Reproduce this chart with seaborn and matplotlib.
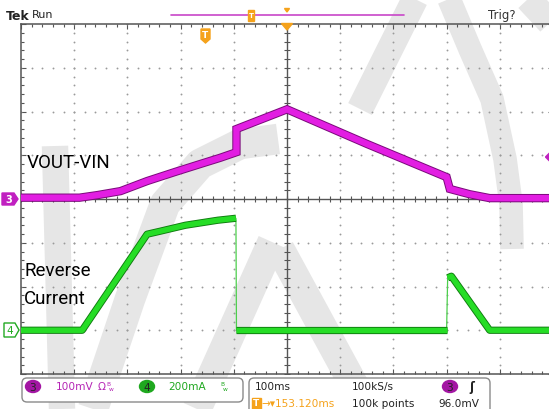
import numpy as np
import pandas as pd
import matplotlib
matplotlib.use("Agg")
import matplotlib.pyplot as plt
import seaborn as sns
from matplotlib import patheffects as pe
from matplotlib.patches import Polygon, FancyBboxPatch, Ellipse, Rectangle
from matplotlib import font_manager as fm

# ---------------- data ----------------
# Channel 3: VOUT-VIN, 100 mV/div, ground at centre line
ch3_time_ms = [-500, -390, -356, -313, -263, -210, -163, -126, -95, -95, 0, 150, 300, 306, 343, 381, 500]
ch3_mv      = [3, 3, 9, 18, 41, 62, 80, 94, 107, 160, 205, 126, 50, 23, 11, 2, 2]

# Channel 4: reverse current, 200 mA/div, ground 3 div below centre
ch4_seg1_ms = [-500, -385, -263, -238, -191, -130, -96]
ch4_seg1_ma = [0, 0, 439, 453, 480, 503, 512]
ch4_seg2_ms = [-95, 300]
ch4_seg2_ma = [0, 0]
ch4_seg3_ms = [302, 309, 381, 500]
ch4_seg3_ma = [240, 247, 0, 0]

ch3_scale, ch3_offset = 100.0, 0.0     # mV/div, div
ch4_scale, ch4_offset = 200.0, -3.0    # mA/div, div
trig_level_mv = 96.0

# ---------------- style ----------------
sns.set_theme(style="white")
plt.rcParams["font.family"] = ["DejaVu Sans"]
names = {f.name for f in fm.fontManager.ttflist}
if "Liberation Sans Narrow" in names:
    label_font, label_fs = "Liberation Sans Narrow", 16
elif "Roboto" in names:
    label_font, label_fs = "Roboto", 13.5
else:
    label_font, label_fs = "Liberation Sans", 13

W, H = 549, 410
fig = plt.figure(figsize=(W / 100, H / 100), dpi=100)
fig.patch.set_facecolor("white")

ax_bg = fig.add_axes([0, 0, 1, 1], zorder=0)
ax_bg.set_xlim(0, W); ax_bg.set_ylim(H, 0); ax_bg.axis("off")

ax = fig.add_axes([21 / W, 35 / H, 532 / W, 350 / H], zorder=1)
ax.patch.set_alpha(0)

ax_fg = fig.add_axes([0, 0, 1, 1], zorder=2)
ax_fg.set_xlim(0, W); ax_fg.set_ylim(H, 0); ax_fg.axis("off")
ax_fg.patch.set_visible(False)

# ---------------- watermark (light grey strokes) ----------------
wm = "#e6e6e6"
strokes = [
    ([55, 62], [147, 410], 19),
    ([93, 130, 165, 200, 240, 278], [410, 300, 205, 165, 145, 140], 22),
    ([197, 272], [410, 243], 21),
    ([280, 367], [250, 410], 21),
    ([415, 360], [0, 110], 19),
    ([449, 470, 492, 505, 511, 512], [0, 50, 100, 160, 205, 250], 17),
    ([528, 556], [0, 30], 19),
]
for xs, ys, lw in strokes:
    ax_bg.plot(xs, ys, color=wm, lw=lw, solid_capstyle="butt", solid_joinstyle="round")

# ---------------- graticule ----------------
ax.set_xlim(-500, 500)
ax.set_ylim(-4, 4)
for s in ax.spines.values():
    s.set_color("#555555"); s.set_linewidth(1.1); s.set_visible(True)
ax.set_xticks(np.arange(-500, 501, 100))
ax.set_xticks(np.arange(-500, 501, 20), minor=True)
ax.set_yticks(np.arange(-4, 4.01, 1))
ax.set_yticks(np.arange(-4, 4.01, 0.2), minor=True)
ax.tick_params(which="both", direction="in", top=True, bottom=True, left=True, right=True,
               labelbottom=False, labelleft=False, color="#555555", width=0.8)
ax.tick_params(which="major", length=3.5)
ax.tick_params(which="minor", length=2.5)
ax.grid(False)

ym = np.arange(-4, 4.01, 0.2)
xm = np.arange(-500, 501, 20)
dot_c = "#9a9a9a"
for xv in [-400, -300, -200, -100, 100, 200, 300, 400]:
    ax.scatter(np.full_like(ym, xv), ym, s=1.8, color=dot_c, linewidths=0, zorder=1)
for yv in [-3, -2, -1, 1, 2, 3]:
    ax.scatter(xm, np.full_like(xm, yv, dtype=float), s=1.8, color=dot_c, linewidths=0, zorder=1)
ax.axvline(0, color="#555555", lw=1.0, zorder=1)
ax.axhline(0, color="#555555", lw=1.0, zorder=1)
ax.plot(np.zeros_like(ym), ym, ls="none", marker="_", ms=5, mew=0.8, color="#555555", zorder=1)
ax.plot(xm, np.zeros_like(xm), ls="none", marker="|", ms=5, mew=0.8, color="#555555", zorder=1)

# ---------------- traces ----------------
mag, mag_dark = "#e21ee2", "#7a0a7a"
grn, grn_dark = "#26dd26", "#0f7a0f"

df3 = pd.DataFrame({"t": ch3_time_ms, "y": np.array(ch3_mv) / ch3_scale + ch3_offset})
sns.lineplot(data=df3, x="t", y="y", ax=ax, sort=False, estimator=None, color=mag, lw=4.6,
             legend=False, zorder=3, solid_joinstyle="miter",
             path_effects=[pe.Stroke(linewidth=6.0, foreground=mag_dark), pe.Normal()])

def ch4_df(ts, ms):
    return pd.DataFrame({"t": ts, "y": np.array(ms) / ch4_scale + ch4_offset})

segs = [(ch4_seg1_ms, ch4_seg1_ma), (ch4_seg2_ms, ch4_seg2_ma), (ch4_seg3_ms, ch4_seg3_ma)]
# thin connecting edges (fast transitions)
for (ta, ma), (tb, mb) in zip(segs[:-1], segs[1:]):
    dfc = ch4_df([ta[-1], tb[0]], [ma[-1], mb[0]])
    sns.lineplot(data=dfc, x="t", y="y", ax=ax, sort=False, estimator=None, color="#4ccf4c",
                 lw=0.9, legend=False, zorder=3)
for ts, ms in segs:
    sns.lineplot(data=ch4_df(ts, ms), x="t", y="y", ax=ax, sort=False, estimator=None,
                 color=grn, lw=3.9, legend=False, zorder=3, solid_capstyle="butt",
                 path_effects=[pe.Stroke(linewidth=5.2, foreground=grn_dark), pe.Normal()])
ax.set_xlabel(""); ax.set_ylabel("")

# ---------------- labels in graticule ----------------
ax_fg.text(27, 163, "VOUT-VIN", fontsize=label_fs, family=label_font, color="black", va="center", ha="left")
ax_fg.text(24, 271, "Reverse", fontsize=label_fs, family=label_font, color="black", va="center", ha="left")
ax_fg.text(24, 299, "Current", fontsize=label_fs, family=label_font, color="black", va="center", ha="left")

# ---------------- top status ----------------
orange = "#f5a21b"
ax_fg.text(6, 16, "Tek", fontsize=9, fontweight="bold", color="#222222", va="center", ha="left")
ax_fg.text(32, 15, "Run", fontsize=8, color="#222222", va="center", ha="left")
ax_fg.text(488, 15, "Trig?", fontsize=8.5, color="#333333", va="center", ha="left")
ax_fg.plot([171, 404], [16, 16], color="#c846c8", lw=1.2)
ax_fg.add_patch(Rectangle((248, 11), 6, 11, color=orange, zorder=3))
ax_fg.text(251, 16.5, "T", fontsize=5, color="white", ha="center", va="center", fontweight="bold")
ax_fg.add_patch(Polygon([[284.5, 9.5], [289.5, 9.5], [287, 13]], closed=True, color=orange))
ax_fg.add_patch(Polygon([[281.5, 24.5], [292.5, 24.5], [287, 31]], closed=True, color=orange))
ax_fg.add_patch(Polygon([[201, 30], [210, 30], [210, 40], [205.5, 44], [201, 40]], closed=True, color=orange))
ax_fg.text(205.5, 36, "T", fontsize=6.5, color="white", ha="center", va="center", fontweight="bold")

# channel markers
ax_fg.add_patch(Polygon([[2, 194], [14, 194], [18, 200], [14, 206], [2, 206]], closed=True, color="#c020c0"))
ax_fg.text(8.5, 200.5, "3", fontsize=7, color="white", ha="center", va="center", fontweight="bold")
ax_fg.add_patch(Polygon([[4, 324], [15, 324], [19, 331], [15, 338], [4, 338]], closed=True,
                        facecolor="white", edgecolor="#22aa22", lw=1.0))
ax_fg.text(10, 331.5, "4", fontsize=7.5, color="#22aa22", ha="center", va="center")
yt = 200 - trig_level_mv / ch3_scale * 43.75
ax_fg.add_patch(Polygon([[551, yt - 5.5], [556, yt], [551, yt + 5.5], [545.5, yt]], closed=True, color="#c020c0"))

# ---------------- bottom status boxes ----------------
fs = 7.6
ax_fg.add_patch(FancyBboxPatch((22, 379), 221, 24, boxstyle="round,pad=0,rounding_size=5",
                               facecolor="white", edgecolor="#8a8a8a", lw=1.0))
ax_fg.add_patch(FancyBboxPatch((249, 379), 241, 36, boxstyle="round,pad=0,rounding_size=5",
                               facecolor="white", edgecolor="#8a8a8a", lw=1.0))
ax_fg.add_patch(Ellipse((33, 387.5), 15, 12, color="#a316a3"))
ax_fg.text(33, 388, "3", fontsize=fs, color="#222222", ha="center", va="center")
ax_fg.text(56, 387.5, "100mV", fontsize=fs, color="#b526b5", ha="left", va="center")
ax_fg.text(98, 387.5, "Ω", fontsize=fs, color="#b526b5", ha="left", va="center")
ax_fg.text(106, 385, "B", fontsize=4.2, color="#b526b5", ha="left", va="center")
ax_fg.text(108.5, 389.5, "w", fontsize=4.2, color="#b526b5", ha="left", va="center")
ax_fg.add_patch(Ellipse((147, 387.5), 15, 12, color="#1fa81f"))
ax_fg.text(147, 388, "4", fontsize=fs, color="#222222", ha="center", va="center")
ax_fg.text(168, 387.5, "200mA", fontsize=fs, color="#1fa81f", ha="left", va="center")
ax_fg.text(220, 385, "B", fontsize=4.2, color="#1fa81f", ha="left", va="center")
ax_fg.text(222.5, 389.5, "w", fontsize=4.2, color="#1fa81f", ha="left", va="center")

ax_fg.text(255, 387.5, "100ms", fontsize=fs, color="#222222", ha="left", va="center")
ax_fg.text(352, 387.5, "100kS/s", fontsize=fs, color="#222222", ha="left", va="center")
ax_fg.add_patch(Ellipse((450, 387.5), 15, 12, color="#a316a3"))
ax_fg.text(450, 388, "3", fontsize=fs, color="#222222", ha="center", va="center")
ax_fg.text(469, 387.5, "ʃ", fontsize=8.5, color="#222222", ha="left", va="center", fontweight="bold")
ax_fg.add_patch(Rectangle((251.5, 398.5), 9, 11, color=orange))
ax_fg.text(256, 404, "T", fontsize=6.5, color="white", ha="center", va="center", fontweight="bold")
ax_fg.text(261, 404, "→▾153.120ms", fontsize=fs, color=orange, ha="left", va="center")
ax_fg.text(352, 404, "100k points", fontsize=fs, color="#222222", ha="left", va="center")
ax_fg.text(438, 404, "96.0mV", fontsize=fs, color="#222222", ha="left", va="center")

fig.savefig("out.png", dpi=100, facecolor="white")
